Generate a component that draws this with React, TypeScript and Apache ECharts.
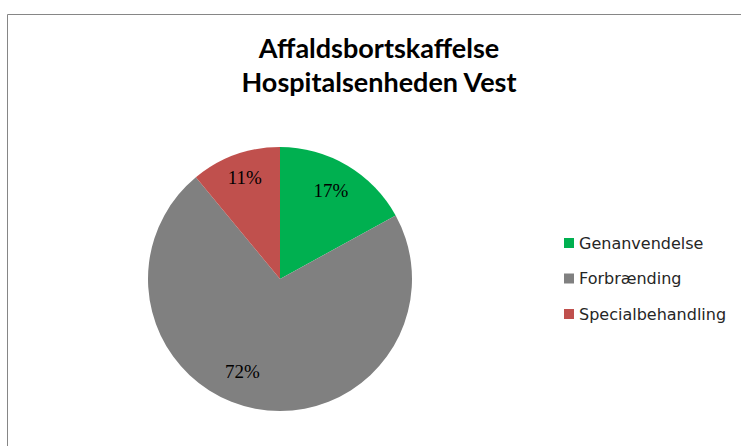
import React, { useEffect, useRef } from "react";
import * as echarts from "echarts";

const titleLines = ["Affaldsbortskaffelse", "Hospitalsenheden Vest"];
const categories = ["Genanvendelse", "Forbrænding", "Specialbehandling"];
const values = [17, 72, 11];
const colors = ["#00B050", "#808080", "#C0504D"];
const labelOffsets = [[-2, 1], [-18, -10], [0, -4]];

export default function App() {
  const ref = useRef<HTMLDivElement>(null);
  useEffect(() => {
    if (!ref.current) return;
    const chart = echarts.init(ref.current, undefined, { renderer: "svg" });
    const total = values.reduce((a, b) => a + b, 0);
    chart.setOption({
      animation: false,
      backgroundColor: "#ffffff",
      color: colors,
      graphic: [
        {
          type: "rect",
          shape: { x: 7.5, y: 14.5, width: 900, height: 600 },
          style: { fill: "none", stroke: "#868686", lineWidth: 1 },
          silent: true,
        },
        ...titleLines.map((t, i) => ({
          type: "text",
          x: 379,
          y: 47 + i * 34,
          style: {
            text: t,
            fontFamily: "Lato",
            fontWeight: "bold",
            fontSize: 27,
            fill: "#000000",
            align: "center",
            verticalAlign: "middle",
          },
        })),
      ],
      legend: {
        orient: "vertical",
        left: 559,
        top: 230,
        icon: "rect",
        itemWidth: 10,
        itemHeight: 10,
        itemGap: 19.5,
        data: categories,
        textStyle: { fontFamily: "DejaVu Sans", fontSize: 16, color: "#262626" },
      },
      series: [
        {
          type: "pie",
          center: [280, 279],
          radius: [0, 132],
          startAngle: 90,
          clockwise: true,
          label: { show: false },
          labelLine: { show: false },
          data: categories.map((n, i) => ({ name: n, value: values[i], itemStyle: { color: colors[i] } })),
          silent: true,
        },
        {
          type: "pie",
          center: [280, 279],
          radius: [70, 132],
          startAngle: 90,
          clockwise: true,
          silent: true,
          itemStyle: { color: "rgba(0,0,0,0)" },
          label: {
            show: true,
            position: "inside",
            fontFamily: "Liberation Serif",
            fontSize: 19,
            color: "#000000",
          },
          labelLine: { show: false },
          data: categories.map((n, i) => ({
            name: n,
            value: values[i],
            itemStyle: { color: "rgba(0,0,0,0)" },
            label: {
              formatter: Math.round((values[i] / total) * 100) + "%",
              offset: labelOffsets[i],
            },
          })),
        },
      ],
    });
    return () => chart.dispose();
  }, []);
  return <div ref={ref} style={{ position: "fixed", left: 0, top: 0, width: 741, height: 446 }} />;
}
